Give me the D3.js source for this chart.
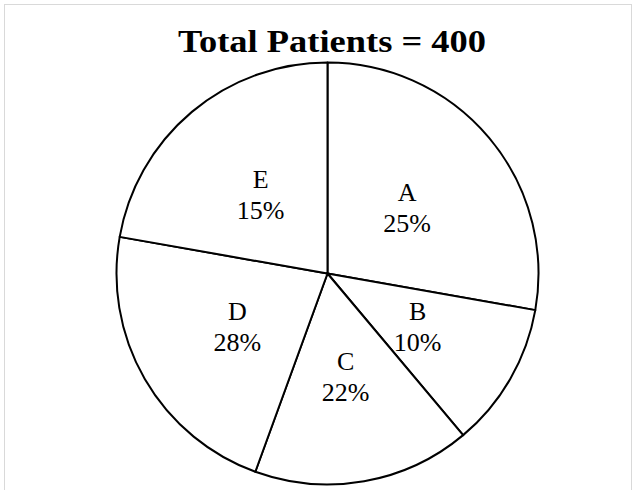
<!DOCTYPE html>
<html><head><meta charset="utf-8">
<script src="https://cdn.jsdelivr.net/npm/d3@7"></script>
<style>html,body{margin:0;padding:0;background:#fff;}svg{display:block;}</style>
</head><body>
<svg id="chart" width="639" height="490"></svg>
<script>
const title = "Total Patients = 400";
const categories = ["A", "B", "C", "D", "E"];
const percentLabels = ["25%", "10%", "22%", "28%", "15%"];
// slice sizes as drawn in the picture (degrees of the circle)
const sliceDegrees = [100, 40, 60, 80, 80];

const W = 639, H = 490;
const cx = 327.5, cy = 273.5, R = 211;
const svg = d3.select("#chart");

svg.append("rect").attr("x", 4.5).attr("y", 4.5).attr("width", 627).attr("height", 500)
  .attr("fill", "#fff").attr("stroke", "#d9d9d9").attr("stroke-width", 1);

svg.append("text").attr("x", 332).attr("y", 52).attr("text-anchor", "middle")
  .attr("font-family", "'Liberation Serif', serif").attr("font-weight", "bold")
  .attr("font-size", 31).attr("textLength", 308).attr("lengthAdjust", "spacingAndGlyphs")
  .attr("fill", "#000").text(title);

const data = categories.map((c, i) => ({cat: c, pct: percentLabels[i], v: sliceDegrees[i]}));
const pie = d3.pie().value(d => d.v).sort(null);
const arcs = pie(data);
const arc = d3.arc().innerRadius(0).outerRadius(R);
const labelArc = d3.arc().innerRadius(0).outerRadius(208);

const g = svg.append("g").attr("transform", `translate(${cx},${cy})`);
g.selectAll("path").data(arcs).join("path")
  .attr("d", arc).attr("fill", "#fff").attr("stroke", "#000").attr("stroke-width", 2)
  .attr("stroke-linejoin", "round");

const lab = g.selectAll("g.lab").data(arcs).join("g").attr("class", "lab")
  .attr("transform", d => { const c = labelArc.centroid(d); return `translate(${c[0]},${c[1]})`; });
lab.append("text").attr("text-anchor", "middle").attr("y", -6)
  .attr("font-family", "'Liberation Serif', serif").attr("font-size", 26).attr("fill", "#000")
  .text(d => d.data.cat);
lab.append("text").attr("text-anchor", "middle").attr("y", 25)
  .attr("font-family", "'Liberation Serif', serif").attr("font-size", 26).attr("fill", "#000")
  .text(d => d.data.pct);
</script>
</body></html>
